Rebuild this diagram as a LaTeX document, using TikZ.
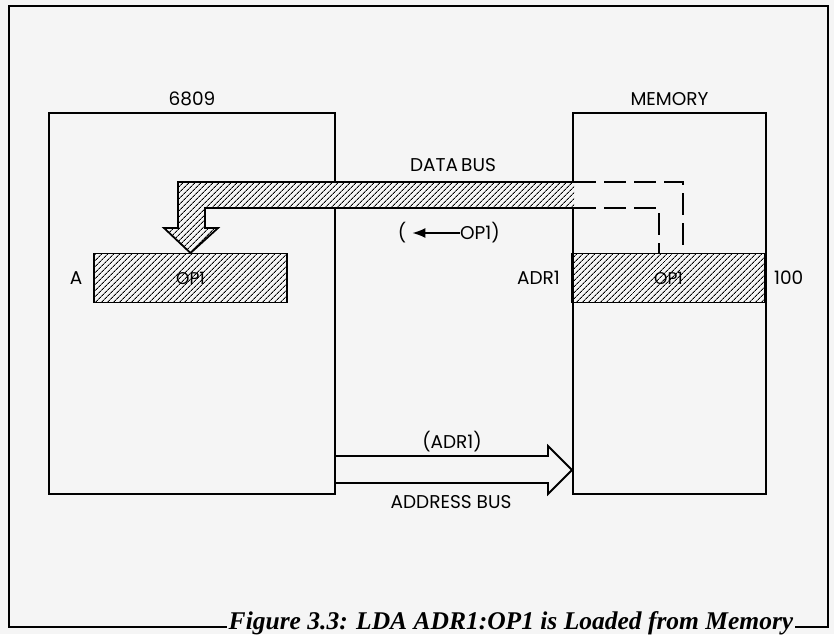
\documentclass[tikz,border=0pt]{standalone}
\usepackage{fontspec}
\setmainfont{Poppins}
\newfontfamily\capfont{Liberation Serif}
\usetikzlibrary{arrows.meta, positioning, patterns.meta}

\begin{document}
\begin{tikzpicture}[
    x=1pt, y=-1pt,
    unit/.style={rectangle, draw, line width=2pt, inner sep=0pt, anchor=north west, minimum height=381pt},
    cell/.style={rectangle, draw, line width=1.8pt, inner sep=0pt, minimum width=193pt, minimum height=49pt, font=\fontsize{17}{18}\selectfont,
        pattern={Lines[angle=45, distance=4pt, line width=1pt]}},
    lbl/.style={font=\fontsize{18.5}{20}\selectfont, inner sep=1pt},
    bus/.style={line width=1.8pt}
]
    \useasboundingbox (0,0) rectangle (834,634);
    \fill[black!4] (0,0) rectangle (834,634);

    % caption and page frame
    \node (cap) [anchor=mid, inner sep=2pt, font=\capfont\bfseries\itshape\fontsize{25.5}{27}\selectfont] at (511,627) {Figure 3.3: LDA ADR1:OP1 is Loaded from Memory};
    \draw[line width=1.4pt] (cap.mid west) -| (9,6) -| (828,627) -- (cap.mid east);

    % processor and memory
    \node (cpu) [unit, minimum width=286pt] at (48,112) {};
    \node (mem) [unit, minimum width=193pt] at (572,112) {};
    \node (cpulbl) [lbl, above=5pt of cpu] {6809};
    \node (memlbl) [lbl, above=5pt of mem] {MEMORY};

    \node (acc) [cell] at (190.5,278) {OP1};
    \node (loc) [cell] at (668.5,278) {OP1};
    \node (albl) [lbl, left=10pt of acc] {A};
    \node (adrlbl) [lbl, left=10pt of loc] {ADR1};
    \node (val) [lbl, right=7pt of loc] {100};

    % data bus
    \draw[bus, preaction={fill=black!4}, pattern={Lines[angle=45, distance=4pt, line width=1pt]}]
        (574,182) -- (178,182) -- (178,228) -- (164,228) -- (acc.north) -- (218,228) -- (205,228) -- (205,208) -- (574,208);
    \draw[bus, dash pattern=on 22pt off 8pt] (574,182) -| (683,253);
    \draw[bus, dash pattern=on 22pt off 8pt] (574,208) -| (659,253);
    \node (dbuslbl) [lbl] at (453,165) {DATA\,BUS};
    \node (lpar) [lbl] at (402,233) {(};
    \node (opval) [lbl, anchor=west, inner sep=0pt] at (460,233) {OP1)};
    \draw[line width=1.6pt, -{Latex[length=13pt, width=10pt]}, shorten >=5pt] (opval.west) -- (lpar.east);

    % address bus
    \draw[bus] (334,456) -- (548,456) -- (548,446) -- (mem.west |- 0,470) -- (548,494) -- (548,483) -- (334,483);
    \node (adrval) [lbl] at (452,442) {(ADR1)};
    \node (abuslbl) [lbl] at (451,502) {ADDRESS BUS};
\end{tikzpicture}
\end{document}
